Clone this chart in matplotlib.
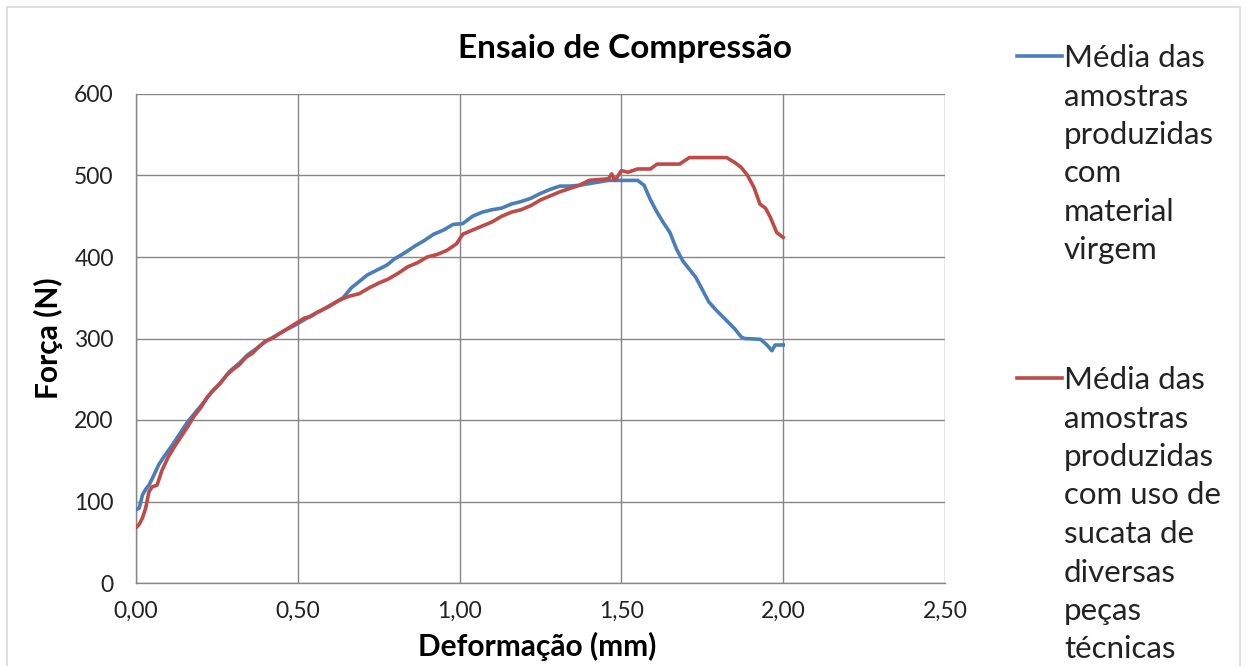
import matplotlib
matplotlib.use("Agg")
import matplotlib.pyplot as plt
from matplotlib.lines import Line2D
from matplotlib.patches import Rectangle

plt.rcParams['font.family'] = ['Lato', 'DejaVu Sans']

# Força x Deformação, média das amostras
virgem_x = [0.000, 0.010, 0.020, 0.030, 0.040, 0.055, 0.070, 0.090, 0.110, 0.135,
            0.160, 0.185, 0.210, 0.235, 0.260, 0.290, 0.320, 0.345, 0.370, 0.400,
            0.430, 0.460, 0.490, 0.520, 0.550, 0.580, 0.610, 0.640, 0.665, 0.690,
            0.715, 0.745, 0.775, 0.800, 0.830, 0.860, 0.890, 0.920, 0.950, 0.980,
            1.010, 1.040, 1.070, 1.100, 1.130, 1.160, 1.190, 1.220, 1.250, 1.280,
            1.310, 1.340, 1.370, 1.400, 1.430, 1.460, 1.500, 1.550, 1.570, 1.590,
            1.610, 1.630, 1.650, 1.670, 1.690, 1.710, 1.730, 1.750, 1.770, 1.790,
            1.810, 1.830, 1.850, 1.870, 1.880, 1.930, 1.950, 1.965, 1.975, 2.000]
virgem_y = [90, 92, 108, 115, 120, 132, 145, 157, 168, 183,
            198, 210, 222, 235, 245, 260, 270, 280, 287, 296,
            303, 310, 316, 323, 330, 336, 343, 350, 362, 370,
            378, 384, 390, 398, 405, 413, 420, 428, 433, 440,
            441, 450, 455, 458, 460, 465, 468, 472, 478, 483,
            487, 487, 488, 490, 492, 494, 494, 494, 488, 470,
            455, 442, 430, 410, 395, 385, 375, 360, 345, 336,
            328, 320, 312, 302, 300, 299, 292, 285, 292, 292]

sucata_x = [0.000, 0.010, 0.020, 0.030, 0.040, 0.050, 0.065, 0.080, 0.100, 0.120,
            0.140, 0.160, 0.180, 0.200, 0.220, 0.240, 0.260, 0.280, 0.300, 0.320,
            0.340, 0.360, 0.380, 0.400, 0.420, 0.440, 0.460, 0.480, 0.500, 0.520,
            0.540, 0.560, 0.580, 0.600, 0.620, 0.640, 0.660, 0.690, 0.720, 0.750,
            0.780, 0.810, 0.840, 0.870, 0.900, 0.930, 0.960, 0.990, 1.010, 1.040,
            1.070, 1.100, 1.130, 1.160, 1.190, 1.220, 1.250, 1.280, 1.310, 1.340,
            1.370, 1.400, 1.430, 1.460, 1.470, 1.480, 1.500, 1.520, 1.550, 1.590,
            1.610, 1.680, 1.710, 1.825, 1.850, 1.870, 1.890, 1.910, 1.928, 1.945,
            1.960, 1.980, 2.000]
sucata_y = [68, 72, 80, 92, 112, 118, 120, 138, 155, 168,
            180, 192, 205, 215, 228, 237, 245, 255, 262, 268,
            277, 282, 290, 297, 300, 305, 310, 315, 320, 325,
            327, 332, 336, 340, 345, 349, 352, 355, 362, 368,
            373, 380, 388, 393, 400, 403, 408, 416, 428, 433,
            438, 443, 450, 455, 458, 463, 470, 475, 480, 484,
            488, 494, 495, 496, 502, 494, 506, 504, 508, 508,
            514, 514, 522, 522, 516, 510, 500, 485, 465, 460,
            449, 430, 424]

x_ticks = [0.0, 0.5, 1.0, 1.5, 2.0, 2.5]
y_ticks = [0, 100, 200, 300, 400, 500, 600]

label_virgem = ["Média das", "amostras", "produzidas", "com", "material", "virgem"]
label_sucata = ["Média das", "amostras", "produzidas", "com uso de", "sucata de",
                "diversas", "peças", "técnicas"]

blue = "#4A7EBB"
red = "#BE4B48"
grid_color = "#868686"

W, H = 1246, 666
fig = plt.figure(figsize=(W / 100, H / 100), dpi=100)
ax = fig.add_axes([136 / W, 1 - 583 / H, 809 / W, 489 / H])

ax.plot(virgem_x, virgem_y, color=blue, lw=2.6, zorder=3)
ax.plot(sucata_x, sucata_y, color=red, lw=2.6, zorder=3)

ax.set_xlim(0, 2.5)
ax.set_ylim(0, 600)
ax.set_xticks(x_ticks)
ax.set_yticks(y_ticks)
ax.set_xticklabels([f"{v:.2f}".replace(".", ",") for v in x_ticks])
ax.set_yticklabels([str(v) for v in y_ticks])
ax.tick_params(length=0, labelsize=16.5, colors="#222222")
ax.tick_params(axis="x", pad=13)
ax.tick_params(axis="y", pad=16)
ax.grid(True, color=grid_color, lw=1.0)
for side in ["left", "bottom"]:
    ax.spines[side].set_color(grid_color)
    ax.spines[side].set_linewidth(1.0)
for side in ["top", "right"]:
    ax.spines[side].set_visible(False)

# textos
fig.text(625 / W, 1 - 58 / H, "Ensaio de Compressão", ha="center", va="baseline",
         fontsize=24, fontweight="bold")
fig.text(537 / W, 1 - 656 / H, "Deformação (mm)", ha="center", va="baseline",
         fontsize=21.5, fontweight="bold")
fig.text(48 / W, 1 - 338 / H, "Força (N)", ha="center", va="center", rotation=90,
         fontsize=21.5, fontweight="bold")

# legenda manual (texto quebrado em várias linhas, como no Excel)
step = 38.5
for lines, color, line_y, base_y in [(label_virgem, blue, 56, 67),
                                      (label_sucata, red, 378, 389)]:
    fig.add_artist(Line2D([1017 / W, 1062 / W], [1 - line_y / H, 1 - line_y / H],
                          color=color, lw=2.6))
    for i, txt in enumerate(lines):
        fig.text(1064 / W, 1 - (base_y + i * step) / H, txt, ha="left",
                 va="baseline", fontsize=22.5, color="#222222")

# borda da área do gráfico
fig.add_artist(Rectangle((7 / W, -0.01), 1233 / W, 1 - 7 / H + 0.01,
                         transform=fig.transFigure, fill=False,
                         edgecolor="#D9D9D9", lw=1.2))

fig.savefig("out.png", dpi=100)
